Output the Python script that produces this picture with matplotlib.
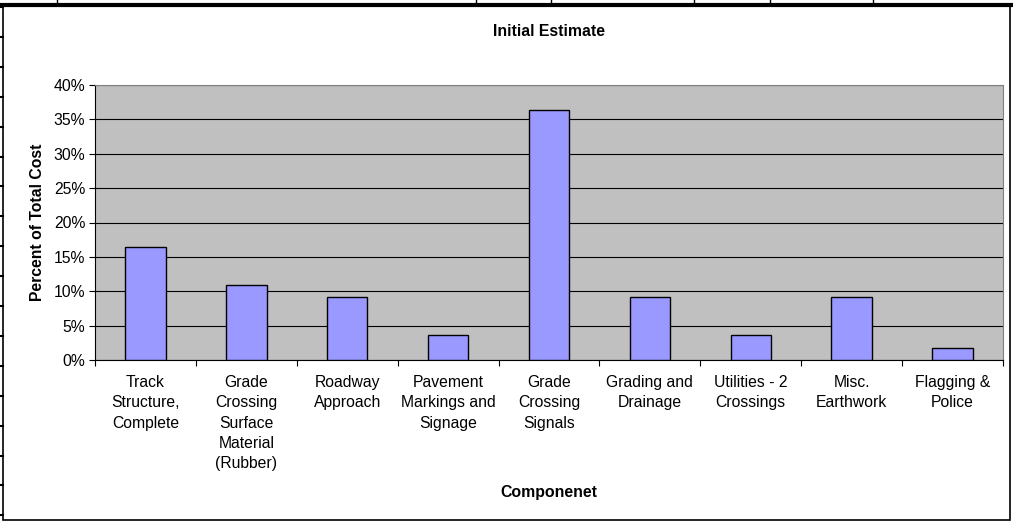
import matplotlib.pyplot as plt
from matplotlib.lines import Line2D
from matplotlib.patches import Rectangle
from matplotlib.ticker import PercentFormatter, FixedLocator, NullFormatter

plt.rcParams['font.family'] = ['Liberation Sans', 'DejaVu Sans']

# 各项成本占比
components = ['Track\nStructure,\nComplete', 'Grade\nCrossing\nSurface\nMaterial\n(Rubber)',
              'Roadway\nApproach', 'Pavement\nMarkings and\nSignage', 'Grade\nCrossing\nSignals',
              'Grading and\nDrainage', 'Utilities - 2\nCrossings', 'Misc.\nEarthwork',
              'Flagging &\nPolice']
percent = [16.4, 10.9, 9.1, 3.6, 36.4, 9.1, 3.6, 9.1, 1.8]

fig = plt.figure(figsize=(10.13, 5.23), dpi=100)
W, H = 1013, 523

# 表格背景里的线
fig.add_artist(Rectangle((3 / W, 3 / H), 1007 / W, (518 - 3) / H, fill=False, lw=1.2,
                         edgecolor='black', transform=fig.transFigure))
fig.add_artist(Line2D([0, 1], [1 - 5 / H, 1 - 5 / H], color='black', lw=3, transform=fig.transFigure))
for x in [57, 476, 551, 694, 770, 873]:
    fig.add_artist(Line2D([x / W, x / W], [1 - 5 / H, 1], color='black', lw=1, transform=fig.transFigure))
for k in range(18):
    y = 7 + 29.9 * k
    fig.add_artist(Line2D([0, 3 / W], [1 - y / H, 1 - y / H], color='black', lw=1.5, transform=fig.transFigure))

ax = fig.add_axes([95 / W, 1 - 360 / H, (1003 - 95) / W, (360 - 85) / H])
ax.set_facecolor('#C0C0C0')
ax.bar(range(len(percent)), percent, width=0.4, color='#9999FF', edgecolor='black', lw=1, zorder=3)
ax.set_ylim(0, 40)
ax.set_xlim(-0.5, len(percent) - 0.5)
ax.set_yticks(range(0, 41, 5))
ax.yaxis.set_major_formatter(PercentFormatter(decimals=0))
ax.grid(axis='y', color='black', lw=0.8, zorder=1)
ax.set_axisbelow(True)

ax.xaxis.set_major_locator(FixedLocator([i - 0.5 for i in range(len(percent) + 1)]))
ax.xaxis.set_major_formatter(NullFormatter())
ax.xaxis.set_minor_locator(FixedLocator(range(len(percent))))
ax.set_xticklabels(components, minor=True, fontsize=11.3, linespacing=1.43, va='top')
ax.tick_params(axis='x', which='minor', length=0, pad=11)
ax.tick_params(axis='x', which='major', length=4, direction='out')
ax.tick_params(axis='y', length=4, direction='out', labelsize=11.3, pad=3)

for s in ax.spines.values():
    s.set_color('#808080')
ax.spines['bottom'].set_color('black')
ax.spines['left'].set_color('black')

ax.set_ylabel('Percent of Total Cost', fontsize=11.3, fontweight='bold', labelpad=6)
fig.text(549 / W, 1 - 32 / H, 'Initial Estimate', fontsize=11.4, fontweight='bold', ha='center', va='center')
fig.text(549 / W, 1 - 493 / H, 'Componenet', fontsize=11.4, fontweight='bold', ha='center', va='center')

plt.savefig('out.png', dpi=100)
